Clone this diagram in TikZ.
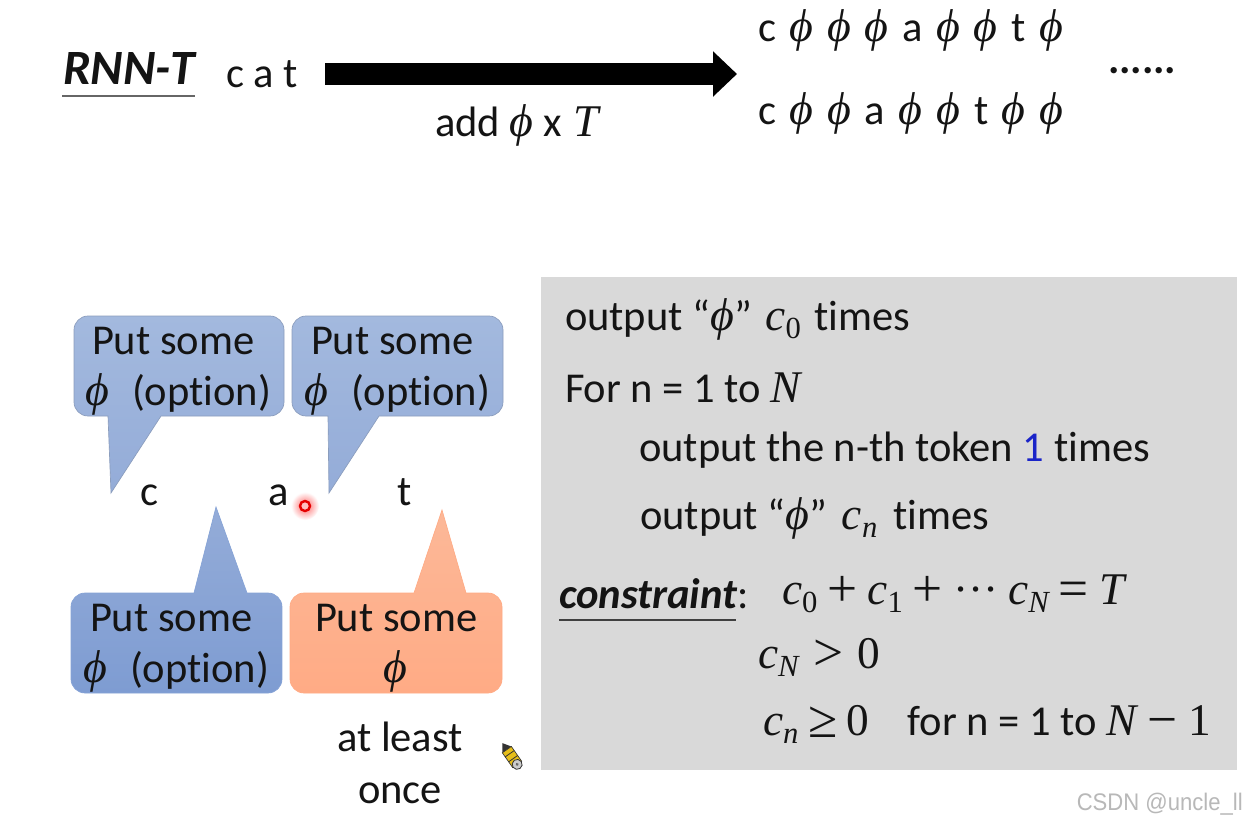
\documentclass[tikz,border=0pt]{standalone}
\usepackage{fontspec}
\setmainfont[Ligatures=NoCommon]{Carlito}
\newfontfamily\wmfont{Liberation Sans}
\newfontfamily\mf{Liberation Serif}
\usetikzlibrary{arrows.meta,shadings}
\definecolor{panelgray}{HTML}{D9D9D9}
\definecolor{bluetop}{HTML}{A3B9DE}
\definecolor{bluemid}{HTML}{94ACD8}
\definecolor{bluelow}{HTML}{86A3D6}
\definecolor{bluebot}{HTML}{7E9CD2}
\definecolor{orgtop}{HTML}{FCB898}
\definecolor{orgbot}{HTML}{FFAB85}
\definecolor{bluetext}{HTML}{1A24C8}
\definecolor{wm}{HTML}{B8B8B8}
\newcommand{\PH}{{\mf\itshape\fontsize{34.5}{34}\selectfont ϕ}}
\newcommand{\mv}[1]{{\mf\itshape\fontsize{34}{34}\selectfont #1}}
\newcommand{\mn}[1]{{\mf\fontsize{34}{34}\selectfont #1}}
\newcommand{\mop}[1]{\raisebox{-1.5pt}{\mf\fontsize{40}{40}\selectfont #1}}
\newcommand{\msb}[2]{{\mf\itshape\fontsize{34}{34}\selectfont #1}\raisebox{-6pt}{\mf\fontsize{23}{24}\selectfont\ifx#2N\itshape\fi\ifx#2n\itshape\fi #2}}
\tikzset{
  x=0.75pt,y=-0.75pt,
  txt/.style={anchor=base west,inner sep=0pt,outer sep=0pt,font=\fontsize{31.9}{33}\selectfont,text=black!92},
  ctxt/.style={anchor=base,inner sep=0pt,outer sep=0pt,font=\fontsize{31.9}{33}\selectfont,text=black!92},
  bluecall/.style={draw=bluetop!85!black,line width=.5pt,top color=bluetop,bottom color=bluemid},
  bluecalldark/.style={draw=bluelow,line width=.5pt,top color=bluemid,bottom color=bluebot},
  orgcall/.style={draw=orgbot,line width=.5pt,top color=orgtop,bottom color=orgbot},
  uline/.style={line width=1.4pt,draw=black!60},
  bigarrow/.style={line width=16.5pt,-{Triangle[length=18pt,width=33pt]}},
}
\newcommand{\calldown}[9]{% style,l,r,t,b,tailL,tailR,tipx,tipy
  \path[#1] (#2+14,#4) -- (#3-14,#4) arc[start angle=-90,end angle=0,radius=14] -- (#3,#5-14) arc[start angle=0,end angle=90,radius=14]
   -- (#7,#5) -- (#8,#9) -- (#6,#5) -- (#2+14,#5) arc[start angle=90,end angle=180,radius=14] -- (#2,#4+14) arc[start angle=180,end angle=270,radius=14] -- cycle;}
\newcommand{\callup}[9]{%
  \path[#1] (#2+14,#4) -- (#6,#4) -- (#8,#9) -- (#7,#4) -- (#3-14,#4) arc[start angle=-90,end angle=0,radius=14] -- (#3,#5-14) arc[start angle=0,end angle=90,radius=14]
   -- (#2+14,#5) arc[start angle=90,end angle=180,radius=14] -- (#2,#4+14) arc[start angle=180,end angle=270,radius=14] -- cycle;}
\begin{document}
\begin{tikzpicture}
\useasboundingbox (0,0) rectangle (1246,822);
\fill[white] (0,0) rectangle (1246,822);
% top row
\node[txt,font=\fontsize{37}{40}\selectfont\bfseries\itshape] (rnnt) at (63,84) {RNN-T};
\draw[uline] (62,96) -- (195,96);
\node[txt] (cat) at (226,87) {c a t};
\coordinate (astart) at (325,74);
\coordinate (aend) at (737,74);
\draw[bigarrow] (astart) -- (aend);
\node[txt] (add) at (435,136) {add \PH{} x \kern2pt\mv{T}};
\node[txt] (seqa) at (758,41) {\spaceskip=10.3pt c \PH{} \PH{} \PH{} a \PH{} \PH{} t \PH};
\node[txt] (seqb) at (758,124) {\spaceskip=10.3pt c \PH{} \PH{} a \PH{} \PH{} t \PH{} \PH};
\node[txt,font=\fontsize{32}{33}\selectfont\bfseries] (dots) at (1108,73) {......};
% panel
\fill[panelgray] (541,277) rectangle (1237,770);
\node[txt] (p1) at (565,330) {output “\PH” \kern3pt\msb{c}{0}\kern3pt{} times};
\node[txt] (p2) at (565,402) {For n = 1 to \mv{N}};
\node[txt] (p3) at (639,461) {output the n-th token \textcolor{bluetext}{1} times};
\node[txt] (p4) at (640,529) {output “\PH” \kern4pt\msb{c}{n}\kern5pt{} times};
\node[txt,font=\fontsize{32}{33}\selectfont\bfseries\itshape] (con) at (559,608) {constraint};
\node[txt] (colon) at (737,608) {:};
\draw[uline,draw=black!75] (559,620) -- (736,620);
\node[txt] (f1) at (782,604) {\spaceskip=7.5pt \msb{c}{0} \mop{+} \msb{c}{1} \mop{+} \mn{···} \msb{c}{N} \mop{=} \mv{T}};
\node[txt] (f2) at (758,668) {\spaceskip=11pt \msb{c}{N} \mop{>} \mn{0}};
\node[txt] (f3) at (763,735) {\msb{c}{n} \mop{≥} \mn{0}\ \ \kern14pt for n = 1 to \mv{N} \kern1pt\mop{−} \kern1pt\mn{1}};
% callouts
\calldown{bluecall,name=ca}{74}{284}{316}{416}{108}{161}{111}{493}
\calldown{bluecall,name=cb}{292}{503}{316}{416}{328}{379}{329}{493}
\callup{bluecalldark,name=cc}{71}{282}{593}{693}{194}{247}{216}{507}
\callup{orgcall,name=cd}{290}{502}{593}{693}{414}{466}{442}{510}
\node[txt] (ta1) at (92,354) {Put some};
\node[txt] (ta2) at (85,405) {\PH\ \ \kern3pt(option)};
\node[txt] (tb1) at (311,354) {Put some};
\node[txt] (tb2) at (304,405) {\PH\ \ \kern3pt(option)};
\node[txt] (tc1) at (90,631) {Put some};
\node[txt] (tc2) at (83,682) {\PH\ \ \kern3pt(option)};
\node[txt] (td1) at (315,631) {Put some};
\node[ctxt] (td2) at (395,682) {\PH};
\node[ctxt] (lc) at (149,505) {c};
\node[ctxt] (la) at (279,505) {a};
\node[ctxt] (lt) at (405,505) {t};
\node[ctxt] (al1) at (400,751) {at least};
\node[ctxt] (al2) at (400,803) {once};
% laser pointer
\shade[inner color=red!60,outer color=white,draw=none] (305,506) circle[radius=14];
\draw[red!90!black,line width=1.8pt,fill=red!25] (305,506) circle[radius=5];
% pencil cursor
\begin{scope}[shift={(512,757)},rotate=-55]
\fill[black!80] (-17,0) -- (-9,-5.5) -- (-9,5.5) -- cycle;
\fill[yellow!65!orange!90!black,draw=black!80,line width=.5pt] (-9,-5.5) rectangle (9,5.5);
\draw[black!80,line width=.6pt] (-4,-5.5) -- (-4,5.5) (2,-5.5) -- (2,5.5);
\fill[black!20,draw=black!80,line width=.6pt] (9,0) circle[radius=5];
\fill[black!60] (9,0) circle[radius=1.6];
\end{scope}
% watermark
\node[anchor=base east,inner sep=0pt,text=wm,font=\wmfont\fontsize{18}{20}\selectfont] (wmk) at (1243,810) {\scalebox{.92}[1]{CSDN @uncle\_ll}};
\end{tikzpicture}
\end{document}
